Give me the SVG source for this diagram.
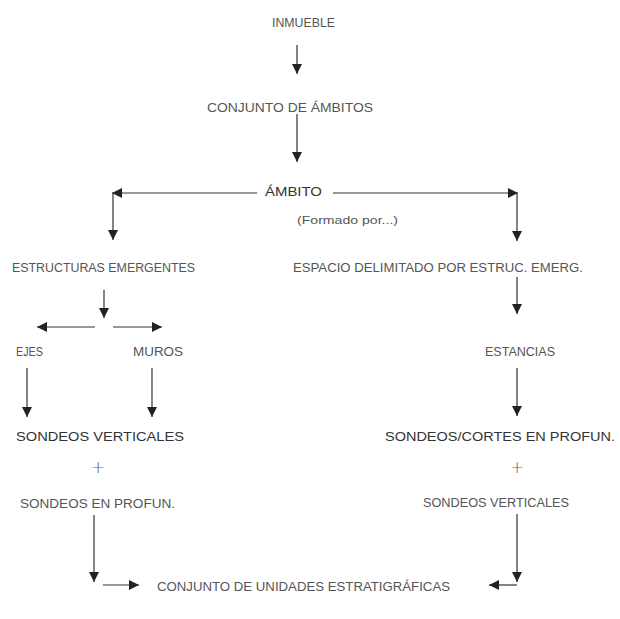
<svg xmlns="http://www.w3.org/2000/svg" width="620" height="619" viewBox="0 0 620 619">
<style>
.f{font-family:"Liberation Sans","Open Sans",sans-serif;font-size:12px;fill:#555;}
.a{font-family:"Liberation Sans",Arial,sans-serif;font-size:13.5px;fill:#333;}
.s{font-family:"Liberation Sans","Open Sans",sans-serif;font-size:11px;fill:#555;}
.p{font-family:"DejaVu Sans","Liberation Sans",sans-serif;font-size:17px;font-weight:200;fill:#666;}
.c{stroke:#333;stroke-width:1.2;fill:none;marker-end:url(#ah);}
</style>
<defs>
<marker id="ah" markerUnits="userSpaceOnUse" markerWidth="10" markerHeight="10" refX="10" refY="5" orient="auto">
<path d="M0,0 L10,5 L0,10 z" fill="#222"/>
</marker>
</defs>
<rect width="620" height="619" fill="#fff"/>
<g id="connectors">
<line class="c" x1="297" y1="45" x2="297" y2="74"/>
<line class="c" x1="297" y1="114" x2="297" y2="162"/>
<line class="c" x1="257" y1="193" x2="112" y2="193"/>
<line class="c" x1="113" y1="193" x2="113" y2="240"/>
<line class="c" x1="333" y1="193" x2="518" y2="193"/>
<line class="c" x1="517" y1="193" x2="517" y2="241"/>
<line class="c" x1="104" y1="290" x2="104" y2="318"/>
<line class="c" x1="95" y1="327" x2="37" y2="327"/>
<line class="c" x1="113" y1="327" x2="162" y2="327"/>
<line class="c" x1="517" y1="277" x2="517" y2="314"/>
<line class="c" x1="27" y1="368" x2="27" y2="417"/>
<line class="c" x1="152" y1="368" x2="152" y2="417"/>
<line class="c" x1="517" y1="368" x2="517" y2="416"/>
<line class="c" x1="94" y1="515" x2="94" y2="582"/>
<line class="c" x1="103" y1="585" x2="139" y2="585"/>
<line class="c" x1="517" y1="514" x2="517" y2="582"/>
<polyline class="c" points="517,585 489,585"/>
</g>
<g id="inmueble"><text class="f" x="272" y="27" textLength="63" lengthAdjust="spacingAndGlyphs">INMUEBLE</text></g>
<g id="conjunto-ambitos"><text class="f" x="207" y="112" textLength="166" lengthAdjust="spacingAndGlyphs">CONJUNTO DE ÁMBITOS</text></g>
<g id="ambito"><text class="a" x="265" y="196" textLength="57" lengthAdjust="spacingAndGlyphs">ÁMBITO</text></g>
<g id="formado"><text class="s" x="297" y="224" textLength="101" lengthAdjust="spacingAndGlyphs">(Formado por...)</text></g>
<g id="estructuras"><text class="f" x="12" y="272" textLength="183" lengthAdjust="spacingAndGlyphs">ESTRUCTURAS EMERGENTES</text></g>
<g id="espacio"><text class="f" x="293" y="272" textLength="290" lengthAdjust="spacingAndGlyphs">ESPACIO DELIMITADO POR ESTRUC. EMERG.</text></g>
<g id="ejes"><text class="f" x="16" y="356" textLength="27" lengthAdjust="spacingAndGlyphs">EJES</text></g>
<g id="muros"><text class="f" x="133" y="356" textLength="50" lengthAdjust="spacingAndGlyphs">MUROS</text></g>
<g id="estancias"><text class="f" x="485" y="356" textLength="70" lengthAdjust="spacingAndGlyphs">ESTANCIAS</text></g>
<g id="sondeos-verticales-l"><text class="a" x="16" y="441" textLength="168" lengthAdjust="spacingAndGlyphs">SONDEOS VERTICALES</text></g>
<g id="plus-l"><text class="p" x="98" y="473" text-anchor="middle">+</text></g>
<g id="sondeos-profun-l"><text class="f" x="20" y="508" textLength="155" lengthAdjust="spacingAndGlyphs">SONDEOS EN PROFUN.</text></g>
<g id="sondeos-cortes"><text class="a" x="385" y="441" textLength="230" lengthAdjust="spacingAndGlyphs">SONDEOS/CORTES EN PROFUN.</text></g>
<g id="plus-r"><text class="p" x="517" y="473" text-anchor="middle">+</text></g>
<g id="sondeos-verticales-r"><text class="f" x="423" y="507" textLength="146" lengthAdjust="spacingAndGlyphs">SONDEOS VERTICALES</text></g>
<g id="conjunto-ue"><text class="f" x="157" y="591" textLength="293" lengthAdjust="spacingAndGlyphs">CONJUNTO DE UNIDADES ESTRATIGRÁFICAS</text></g>
</svg>
